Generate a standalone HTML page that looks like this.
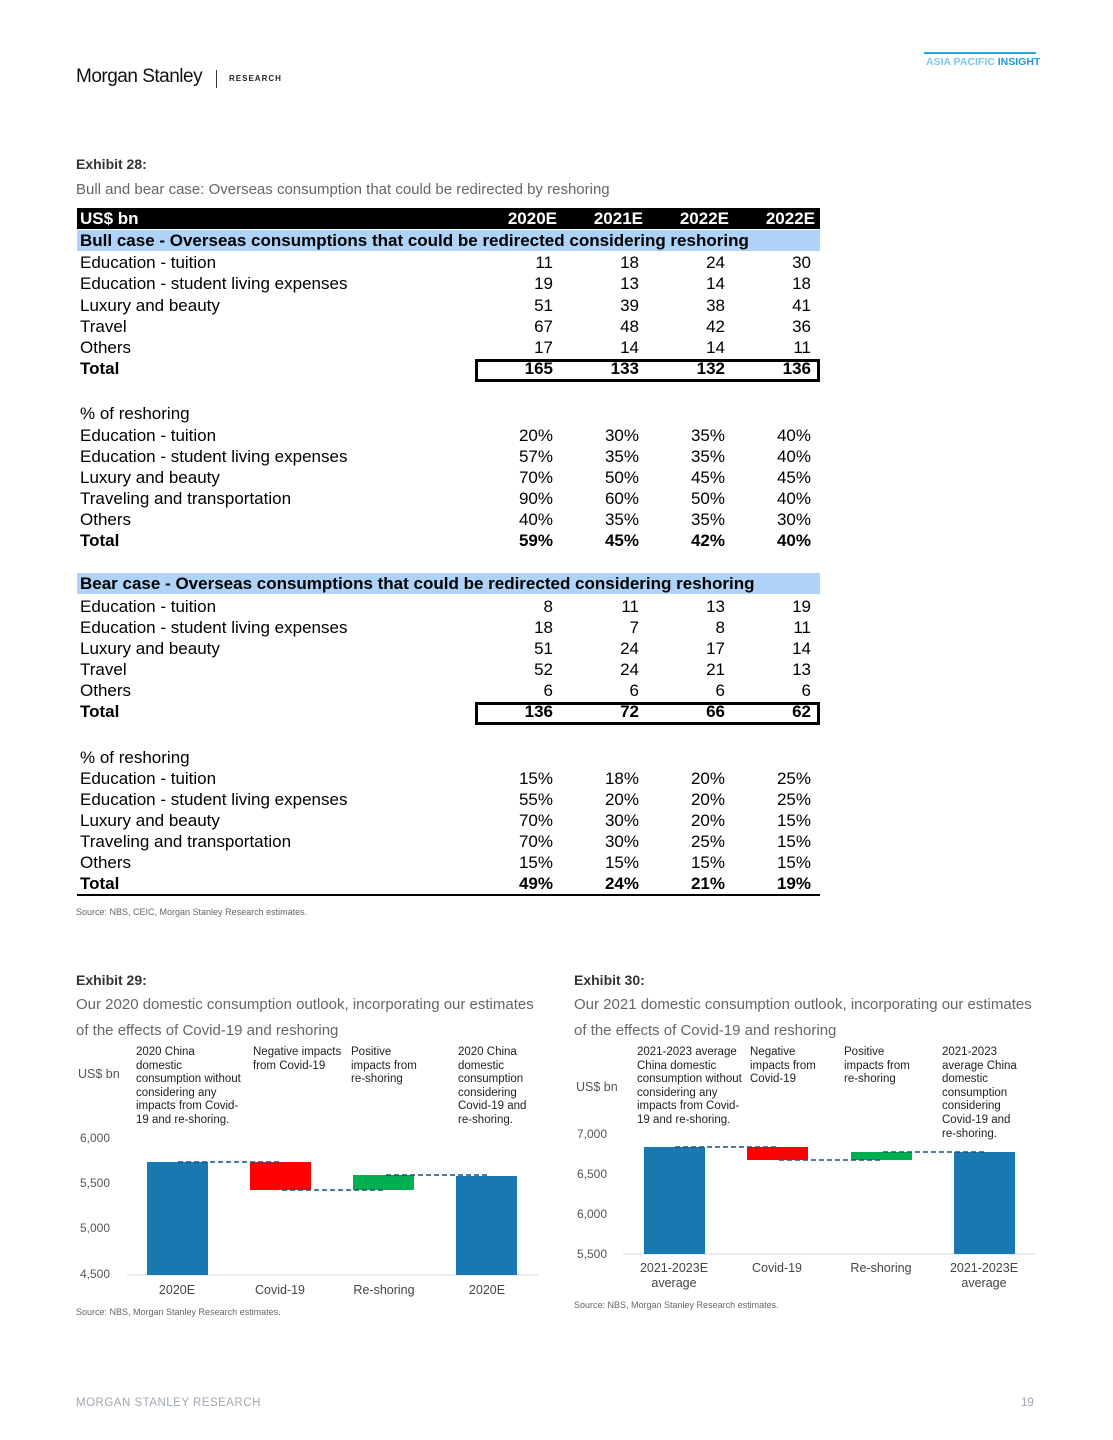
<!DOCTYPE html>
<html><head><meta charset="utf-8"><style>
body{margin:0;width:1113px;height:1440px;position:relative;background:#fff;font-family:"Liberation Sans",sans-serif;overflow:hidden}
.a{position:absolute;white-space:nowrap}
.r{position:absolute;font-size:17px;line-height:20px;color:#000;white-space:nowrap}
.n{position:absolute;font-size:17px;line-height:20px;text-align:right;width:60px;white-space:nowrap}
.b{font-weight:bold}
.ann{position:absolute;font-size:11.5px;line-height:13.6px;color:#222}
.tk{position:absolute;font-size:12px;color:#555;line-height:14px}
.cat{position:absolute;font-size:12.5px;color:#444;text-align:center;line-height:15px}
</style></head><body>
<div class="a" style="left:76px;top:66px;font-size:19px;color:#111;letter-spacing:-0.5px">Morgan Stanley</div>
<div class="a" style="left:216px;top:70px;width:1px;height:18px;background:#333"></div>
<div class="a" style="left:229px;top:74px;font-size:8px;font-weight:bold;letter-spacing:1px;color:#222">RESEARCH</div>
<div class="a" style="left:924px;top:52px;width:112px;height:2px;background:#29a8e0"></div>
<div class="a" style="left:926px;top:56px;font-size:10.5px;font-weight:bold;color:#7fc6ea">ASIA PACIFIC <span style="color:#1a9ad6">INSIGHT</span></div>

<div class="a b" style="left:76px;top:156px;font-size:14px;color:#333">Exhibit 28:</div>
<div class="a" style="left:76px;top:181px;font-size:15px;color:#666">Bull and bear case: Overseas consumption that could be redirected by reshoring</div>

<div class="a" style="left:77px;top:208px;width:743px;height:21px;background:#000"></div>
<div class="r b" style="left:80px;top:209px;color:#fff">US$ bn</div>
<div class="n b" style="left:497px;top:209px;color:#fff">2020E</div>
<div class="n b" style="left:583px;top:209px;color:#fff">2021E</div>
<div class="n b" style="left:669px;top:209px;color:#fff">2022E</div>
<div class="n b" style="left:755px;top:209px;color:#fff">2022E</div>

<div class="a" style="left:77px;top:230px;width:743px;height:21px;background:#aed3f7"></div>
<div class="r b" style="left:80px;top:231px">Bull case - Overseas consumptions that could be redirected considering reshoring</div>
<div class="a" style="left:77px;top:573px;width:743px;height:21px;background:#aed3f7"></div>
<div class="r b" style="left:80px;top:574px">Bear case - Overseas consumptions that could be redirected considering reshoring</div>

<div class="a" style="left:475px;top:359px;width:339px;height:17px;border:3px solid #000"></div>
<div class="a" style="left:475px;top:702px;width:339px;height:17px;border:3px solid #000"></div>
<div class="a" style="left:77px;top:894px;width:743px;height:2px;background:#000"></div>

<div id="rows"></div>
<script>
var rows=[
[252,"Education - tuition",["11","18","24","30"]],
[273,"Education - student living expenses",["19","13","14","18"]],
[295,"Luxury and beauty",["51","39","38","41"]],
[316,"Travel",["67","48","42","36"]],
[337,"Others",["17","14","14","11"]],
[358,"Total",["165","133","132","136"],1],
[403,"% of reshoring",[]],
[425,"Education - tuition",["20%","30%","35%","40%"]],
[446,"Education - student living expenses",["57%","35%","35%","40%"]],
[467,"Luxury and beauty",["70%","50%","45%","45%"]],
[488,"Traveling and transportation",["90%","60%","50%","40%"]],
[509,"Others",["40%","35%","35%","30%"]],
[530,"Total",["59%","45%","42%","40%"],1],
[596,"Education - tuition",["8","11","13","19"]],
[617,"Education - student living expenses",["18","7","8","11"]],
[638,"Luxury and beauty",["51","24","17","14"]],
[659,"Travel",["52","24","21","13"]],
[680,"Others",["6","6","6","6"]],
[701,"Total",["136","72","66","62"],1],
[747,"% of reshoring",[]],
[768,"Education - tuition",["15%","18%","20%","25%"]],
[789,"Education - student living expenses",["55%","20%","20%","25%"]],
[810,"Luxury and beauty",["70%","30%","20%","15%"]],
[831,"Traveling and transportation",["70%","30%","25%","15%"]],
[852,"Others",["15%","15%","15%","15%"]],
[873,"Total",["49%","24%","21%","19%"],1]];
var xs=[493,579,665,751],h="";
rows.forEach(function(r){var cl=r[3]?" b":"";var t0=r[0]+1;
h+='<div class="r'+cl+'" style="left:80px;top:'+t0+'px">'+r[1]+'</div>';
r[2].forEach(function(v,i){var t=(r[3]&&v.indexOf("%")<0)?r[0]+1:t0;h+='<div class="n'+cl+'" style="left:'+xs[i]+'px;top:'+t+'px">'+v+'</div>';});});
document.getElementById("rows").innerHTML=h;
</script>
<div class="a" style="left:76px;top:907px;font-size:9px;color:#666">Source: NBS, CEIC, Morgan Stanley Research estimates.</div>

<!-- Exhibit 29 -->
<div class="a b" style="left:76px;top:972px;font-size:14px;color:#333">Exhibit 29:</div>
<div class="a" style="left:76px;top:992px;font-size:15px;color:#666;line-height:26px">Our 2020 domestic consumption outlook, incorporating our estimates<br>of the effects of Covid-19 and reshoring</div>
<div class="ann" style="left:136px;top:1046px">2020 China<br>domestic<br>consumption without<br>considering any<br>impacts from Covid-<br>19 and re-shoring.</div>
<div class="ann" style="left:253px;top:1046px">Negative impacts<br>from Covid-19</div>
<div class="ann" style="left:351px;top:1046px">Positive<br>impacts from<br>re-shoring</div>
<div class="ann" style="left:458px;top:1046px">2020 China<br>domestic<br>consumption<br>considering<br>Covid-19 and<br>re-shoring.</div>
<div class="tk" style="left:78px;top:1067px;font-size:12.5px">US$ bn</div>
<div class="tk" style="left:80px;top:1131px">6,000</div>
<div class="tk" style="left:80px;top:1176px">5,500</div>
<div class="tk" style="left:80px;top:1221px">5,000</div>
<div class="tk" style="left:80px;top:1267px">4,500</div>
<svg class="a" style="left:0;top:0" width="1113" height="1440">
<line x1="127" y1="1275" x2="538" y2="1275" stroke="#d9d9d9"/>
<rect x="147" y="1162" width="61" height="113" fill="#1879b0"/>
<rect x="250" y="1162" width="61" height="28" fill="#ff0000"/>
<rect x="353" y="1175" width="61" height="15" fill="#00b050"/>
<rect x="456" y="1176" width="61" height="99" fill="#1879b0"/>
<g stroke="#1f4e79" stroke-width="1.5" stroke-dasharray="5,3">
<line x1="178" y1="1162" x2="280" y2="1162"/><line x1="282" y1="1190" x2="384" y2="1190"/><line x1="386" y1="1175" x2="488" y2="1175"/></g>
<line x1="623" y1="1254" x2="1036" y2="1254" stroke="#d9d9d9"/>
<rect x="644" y="1147" width="61" height="107" fill="#1879b0"/>
<rect x="747" y="1147" width="61" height="13" fill="#ff0000"/>
<rect x="851" y="1152" width="61" height="8" fill="#00b050"/>
<rect x="954" y="1152" width="61" height="102" fill="#1879b0"/>
<g stroke="#1f4e79" stroke-width="1.5" stroke-dasharray="5,3">
<line x1="675" y1="1147" x2="777" y2="1147"/><line x1="779" y1="1160" x2="881" y2="1160"/><line x1="883" y1="1152" x2="985" y2="1152"/></g>
</svg>
<div class="cat" style="left:137px;top:1283px;width:80px">2020E</div>
<div class="cat" style="left:240px;top:1283px;width:80px">Covid-19</div>
<div class="cat" style="left:344px;top:1283px;width:80px">Re-shoring</div>
<div class="cat" style="left:447px;top:1283px;width:80px">2020E</div>
<div class="a" style="left:76px;top:1307px;font-size:9px;color:#666">Source: NBS, Morgan Stanley Research estimates.</div>

<!-- Exhibit 30 -->
<div class="a b" style="left:574px;top:972px;font-size:14px;color:#333">Exhibit 30:</div>
<div class="a" style="left:574px;top:992px;font-size:15px;color:#666;line-height:26px">Our 2021 domestic consumption outlook, incorporating our estimates<br>of the effects of Covid-19 and reshoring</div>
<div class="ann" style="left:637px;top:1046px">2021-2023 average<br>China domestic<br>consumption without<br>considering any<br>impacts from Covid-<br>19 and re-shoring.</div>
<div class="ann" style="left:750px;top:1046px">Negative<br>impacts from<br>Covid-19</div>
<div class="ann" style="left:844px;top:1046px">Positive<br>impacts from<br>re-shoring</div>
<div class="ann" style="left:942px;top:1046px">2021-2023<br>average China<br>domestic<br>consumption<br>considering<br>Covid-19 and<br>re-shoring.</div>
<div class="tk" style="left:576px;top:1080px;font-size:12.5px">US$ bn</div>
<div class="tk" style="left:577px;top:1127px">7,000</div>
<div class="tk" style="left:577px;top:1167px">6,500</div>
<div class="tk" style="left:577px;top:1207px">6,000</div>
<div class="tk" style="left:577px;top:1247px">5,500</div>
<div class="cat" style="left:624px;top:1261px;width:100px">2021-2023E<br>average</div>
<div class="cat" style="left:737px;top:1261px;width:80px">Covid-19</div>
<div class="cat" style="left:841px;top:1261px;width:80px">Re-shoring</div>
<div class="cat" style="left:934px;top:1261px;width:100px">2021-2023E<br>average</div>
<div class="a" style="left:574px;top:1300px;font-size:9px;color:#666">Source: NBS, Morgan Stanley Research estimates.</div>

<div class="a" style="left:76px;top:1397px;font-size:11.5px;color:#a0a8b0;letter-spacing:0.5px">MORGAN STANLEY RESEARCH</div>
<div class="a" style="left:1021px;top:1397px;font-size:11.5px;color:#a0a8b0">19</div>
</body></html>
